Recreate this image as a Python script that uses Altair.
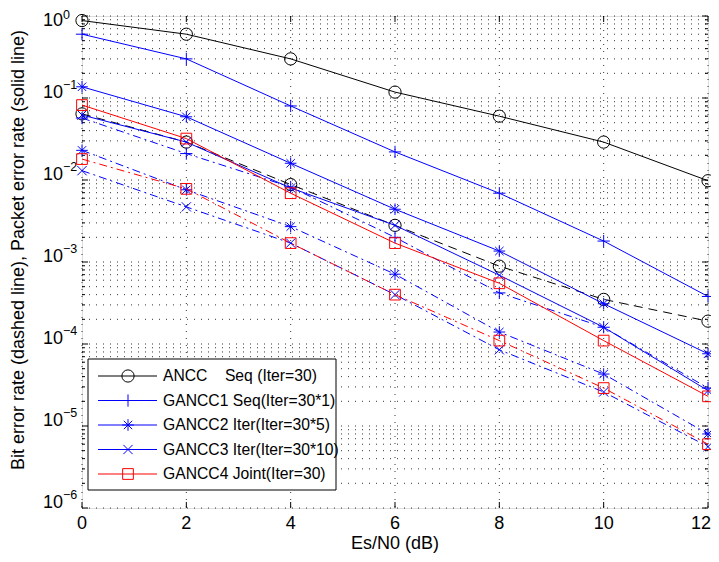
import altair as alt
import pandas as pd

# ---------------- data ----------------
snr = [0, 2, 4, 6, 8, 10, 12]

ancc_per = [0.88, 0.60, 0.30, 0.118, 0.060, 0.029, 0.0098]
ancc_ber = [0.064, 0.029, 0.0088, 0.0028, 0.00089, 0.00035, 0.00019]
g1_per = [0.60, 0.30, 0.080, 0.022, 0.0069, 0.0018, 0.00038]
g1_ber = [0.057, 0.021, 0.0082, 0.0020, 0.00042, 0.00016, 0.000029]
g2_per = [0.137, 0.059, 0.016, 0.0044, 0.00136, 0.00031, 0.000076]
g2_ber = [0.023, 0.0076, 0.0027, 0.00071, 0.00014, 0.000043, 0.000008]
g3_per = [0.062, 0.029, 0.0080, 0.0028, 0.00069, 0.00016, 0.000027]
g3_ber = [0.013, 0.0047, 0.0017, 0.00040, 0.000085, 0.000026, 0.0000056]
g4_per = [0.082, 0.032, 0.0069, 0.0017, 0.00055, 0.00011, 0.000023]
g4_ber = [0.018, 0.0078, 0.0017, 0.00040, 0.00011, 0.000029, 0.000006]

labels = [
    "ANCC\u00a0\u00a0\u00a0\u00a0Seq (Iter=30)",
    "GANCC1 Seq(Iter=30*1)",
    "GANCC2 Iter(Iter=30*5)",
    "GANCC3 Iter(Iter=30*10)",
    "GANCC4 Joint(Iter=30)",
]
x_ticks = [0, 2, 4, 6, 8, 10, 12]
x_tick_labels = ["0", "2", "4", "6", "8", "10", "12"]
decades = [1e-6, 1e-5, 1e-4, 1e-3, 1e-2, 1e-1]
exponents = ["\u22126", "\u22125", "\u22124", "\u22123", "\u22122", "\u22121"]
top_decade = [1e0]
top_exponent = ["0"]
x_title = "Es/N0 (dB)"
y_title = "Bit error rate (dashed line), Packet error rate (solid line)"

# ---------------- styling ----------------
W, H = 626, 492
FONT = "Liberation Sans"
BLACK, BLUE, RED = "#000000", "#0000ff", "#ff0000"
PLUS = "M-1,0L1,0M0,-1L0,1"
STAR = "M-1,0L1,0M0,-1L0,1M-0.72,-0.72L0.72,0.72M-0.72,0.72L0.72,-0.72"
XMARK = "M-1,-1L1,1M-1,1L1,-1"

series = [
    (labels[0], ancc_per, ancc_ber, BLACK, "circle", 150, [9, 6]),
    (labels[1], g1_per, g1_ber, BLUE, PLUS, 150, [8, 4, 2, 4]),
    (labels[2], g2_per, g2_ber, BLUE, STAR, 135, [8, 4, 2, 4]),
    (labels[3], g3_per, g3_ber, BLUE, XMARK, 85, [8, 4, 2, 4]),
    (labels[4], g4_per, g4_ber, RED, "square", 115, [8, 4, 2, 4]),
]

xscale = alt.Scale(domain=[0, 12], nice=False, zero=False)
yscale = alt.Scale(type="log", domain=[1e-6, 1], nice=False)


def X(field):
    return alt.X(field, scale=xscale, axis=None)


def Y(field):
    return alt.Y(field, scale=yscale, axis=None)


layers = []

# dotted grid
all_decades = decades + top_decade
minor_vals = [m * d for d in decades for m in range(1, 10)] + [1.0]
grid_df = pd.DataFrame({"v": minor_vals})
layers.append(
    alt.Chart(grid_df).mark_rule(color="#000000", strokeWidth=1, strokeDash=[1, 6], opacity=0.8)
    .encode(y=Y("v:Q"), x=alt.value(0), x2=alt.value(W))
)
vgrid_df = pd.DataFrame({"v": x_ticks, "t": x_tick_labels})
layers.append(
    alt.Chart(vgrid_df).mark_rule(color="#000000", strokeWidth=1, strokeDash=[1, 6], opacity=0.8)
    .encode(x=X("v:Q"), y=alt.value(0), y2=alt.value(H))
)

# inside ticks on all four sides
minor_only = [m * d for d in decades for m in range(2, 10)]
mdf = pd.DataFrame({"v": minor_only})
ddf = pd.DataFrame({"v": all_decades})
for (df, ln) in [(mdf, 3), (ddf, 6)]:
    layers.append(alt.Chart(df).mark_rule(color=BLACK, strokeWidth=1)
                  .encode(y=Y("v:Q"), x=alt.value(0), x2=alt.value(ln)))
    layers.append(alt.Chart(df).mark_rule(color=BLACK, strokeWidth=1)
                  .encode(y=Y("v:Q"), x=alt.value(W - ln), x2=alt.value(W)))
layers.append(alt.Chart(vgrid_df).mark_rule(color=BLACK, strokeWidth=1)
              .encode(x=X("v:Q"), y=alt.value(H - 6), y2=alt.value(H)))
layers.append(alt.Chart(vgrid_df).mark_rule(color=BLACK, strokeWidth=1)
              .encode(x=X("v:Q"), y=alt.value(0), y2=alt.value(6)))

# y tick labels: "10" with a superscript exponent
lab_df = pd.DataFrame({"v": decades, "e": exponents, "b": ["10"] * len(decades)})
top_df = pd.DataFrame({"v": top_decade, "e": top_exponent, "b": ["10"]})
for df, dy_b, dy_e in [(lab_df, -5, -13), (top_df, 5, -1)]:
    layers.append(alt.Chart(df).mark_text(align="right", baseline="middle", fontSize=18, font=FONT,
                                          dy=dy_b, color=BLACK)
                  .encode(y=Y("v:Q"), x=alt.value(-19), text="b:N"))
    layers.append(alt.Chart(df).mark_text(align="left", baseline="middle", fontSize=12.5, font=FONT,
                                          dy=dy_e, color=BLACK)
                  .encode(y=Y("v:Q"), x=alt.value(-19), text="e:N"))

# x tick labels (the last one kept inside the page)
inner_df = vgrid_df.iloc[:-1]
last_df = vgrid_df.iloc[-1:]
layers.append(alt.Chart(inner_df).mark_text(align="center", baseline="middle", fontSize=18, font=FONT,
                                            color=BLACK)
              .encode(x=X("v:Q"), y=alt.value(H + 16), text="t:N"))
layers.append(alt.Chart(last_df).mark_text(align="right", baseline="middle", fontSize=18, font=FONT,
                                           color=BLACK, dx=3)
              .encode(x=X("v:Q"), y=alt.value(H + 16), text="t:N"))

# axis titles
layers.append(alt.Chart(pd.DataFrame({"t": [x_title]})).mark_text(
    align="center", baseline="middle", fontSize=18, font=FONT, color=BLACK)
    .encode(x=alt.value(W / 2), y=alt.value(H + 36), text="t:N"))
layers.append(alt.Chart(pd.DataFrame({"t": [y_title]})).mark_text(
    align="center", baseline="middle", fontSize=18, font=FONT, color=BLACK, angle=270)
    .encode(x=alt.value(-63), y=alt.value(234), text="t:N"))

# data lines and markers
for name, per, ber, col, shape, size, dash in series:
    for kind, vals in (("PER", per), ("BER", ber)):
        df = pd.DataFrame({"x": snr, "y": vals})
        lkw = dict(color=col, strokeWidth=1)
        if kind == "BER":
            lkw["strokeDash"] = dash
        layers.append(alt.Chart(df).mark_line(**lkw).encode(x=X("x:Q"), y=Y("y:Q")))
        layers.append(alt.Chart(df).mark_point(shape=shape, size=size, filled=False, color=col,
                                               strokeWidth=1, opacity=1)
                      .encode(x=X("x:Q"), y=Y("y:Q")))

# legend
LX0, LX1, LY0, LY1 = 6, 254, 343, 474
layers.append(alt.Chart(pd.DataFrame({"a": [0]})).mark_rect(fill="white", stroke=BLACK, strokeWidth=1)
              .encode(x=alt.value(LX0), x2=alt.value(LX1), y=alt.value(LY0), y2=alt.value(LY1)))
row_y = [360, 384.5, 409, 433.5, 458]
for i, (name, per, ber, col, shape, size, dash) in enumerate(series):
    one = pd.DataFrame({"t": [name]})
    ry = row_y[i]
    layers.append(alt.Chart(one).mark_rule(color=col, strokeWidth=1)
                  .encode(x=alt.value(16), x2=alt.value(75), y=alt.value(ry)))
    layers.append(alt.Chart(one).mark_point(shape=shape, size=size, filled=False, color=col,
                                            strokeWidth=1, opacity=1)
                  .encode(x=alt.value(46), y=alt.value(ry)))
    layers.append(alt.Chart(one).mark_text(align="left", baseline="middle", fontSize=15.7, font=FONT,
                                           color=BLACK)
                  .encode(x=alt.value(81), y=alt.value(ry), text="t:N"))

chart = alt.layer(*layers).properties(
    width=W, height=H,
    autosize=alt.AutoSizeParams(type="none"),
    padding={"left": 74, "top": 8, "right": 3, "bottom": 46},
).configure_view(stroke=BLACK, strokeWidth=1).configure(background="white")

chart.save("out.html", embed_options={"renderer": "svg", "actions": False})
